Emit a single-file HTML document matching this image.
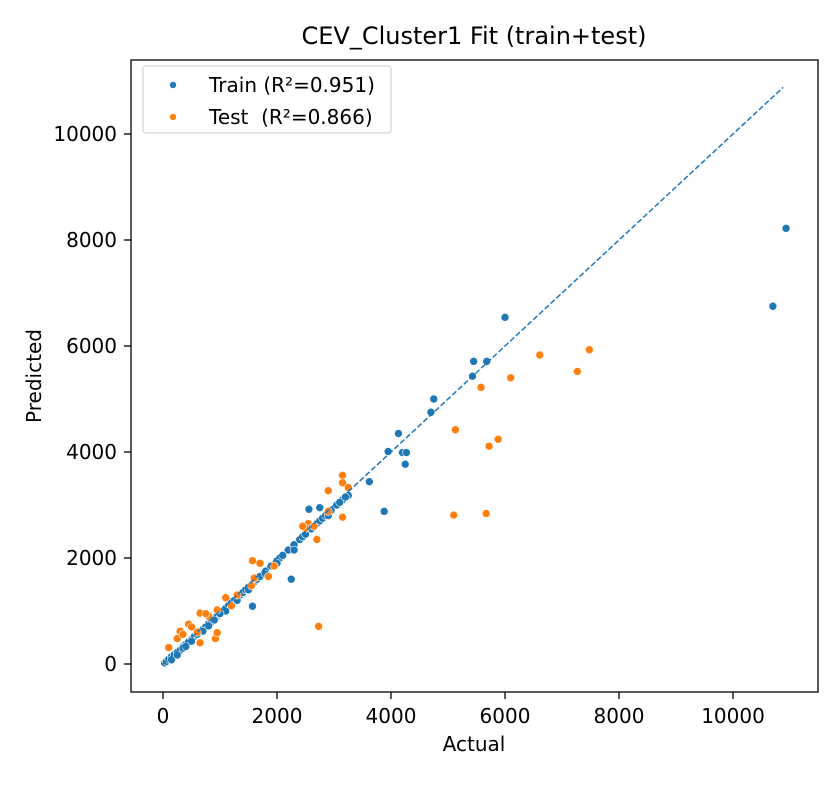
<!DOCTYPE html>
<html><head><meta charset="utf-8"><style>
body{margin:0;background:#fff;}
svg text{font-family:"DejaVu Sans","Liberation Sans",sans-serif;fill:#000;}
</style></head><body>
<svg id="chart" width="840" height="780" viewBox="0 0 840 780" xmlns="http://www.w3.org/2000/svg">
<rect width="840" height="780" fill="#fff"/>
<text x="474" y="44" font-size="24" text-anchor="middle">CEV_Cluster1 Fit (train+test)</text>
<g id="marks"></g>
<rect x="131" y="60" width="687" height="632" fill="none" stroke="#000" stroke-width="1.3"/>
<g id="axes"></g>
<text x="474" y="751" font-size="20" text-anchor="middle">Actual</text>
<text transform="translate(41,376) rotate(-90)" font-size="20" text-anchor="middle">Predicted</text>
<g>
<rect x="143" y="66" width="248" height="67" rx="3" fill="#fff" fill-opacity="0.8" stroke="#ccc"/>
<circle cx="173" cy="85" r="3.5" fill="#1f77b4" stroke="#fff" stroke-width="0.6"/>
<text x="209" y="92" font-size="20">Train (R²=0.951)</text>
<circle cx="173" cy="117" r="3.5" fill="#ff7f0e" stroke="#fff" stroke-width="0.6"/>
<text x="209" y="124" font-size="20">Test &#160;(R²=0.866)</text>
</g>
</svg>
<script>
const xTicks=[0,2000,4000,6000,8000,10000];
const yTicks=[0,2000,4000,6000,8000,10000];
const trainActual=[10930,10700,6000,5450,5680,5430,4750,4700,4130,4200,4270,4250,3950,3880,3620,3250,3150,2250,1570,2750,2560,
 30,60,100,150,200,250,300,350,400,450,500,550,600,650,700,750,800,850,900,950,1000,1050,1100,1150,1200,1250,1300,1350,1400,1450,1500,1600,1650,1700,1800,1900,2000,2050,2100,2200,2300,2400,2450,2500,2600,2700,2750,2800,2850,2950,3050,3100,150,250,350,500,700,900,1100,1300,1500,1800,2000,2300,2650,2900,3200,1200,1000,800,600,400];
const trainPred=[8220,6750,6540,5710,5710,5430,5000,4750,4350,3990,3990,3770,4010,2880,3440,3180,3100,1600,1090,2950,2920,
 20,50,90,140,180,220,260,330,370,420,460,520,560,620,650,700,760,800,850,900,940,1000,1050,1100,1180,1200,1260,1300,1350,1400,1450,1550,1600,1650,1750,1850,1950,2000,2050,2150,2250,2350,2400,2450,2550,2650,2700,2750,2800,2900,3000,3050,80,170,300,430,620,830,1000,1200,1400,1700,1900,2150,2600,2800,3150,1100,950,720,560,330];
const testActual=[7480,7270,6610,6100,5580,5130,5880,5720,5100,5670,2730,3150,3150,3150,2900,3250,2900,2550,2500,2700,1570,1950,1700,1850,1600,1550,1100,1300,950,650,800,450,300,100,250,600,920,950,650,500,350,1200,750,2450,2650];
const testPred=[5930,5520,5830,5400,5220,4420,4240,4110,2810,2840,710,3560,3420,2770,3270,3330,2880,2650,2560,2350,1950,1850,1900,1650,1620,1480,1250,1300,1020,960,900,750,620,310,480,600,480,590,400,700,560,1100,950,2600,2600];
const lineStart=0, lineEnd=10880;
const X=v=>163+v*0.057, Y=v=>664-v*0.053;
const NS="http://www.w3.org/2000/svg";
const marks=document.getElementById('marks'), axes=document.getElementById('axes');
function mk(tag,attrs,parent){const e=document.createElementNS(NS,tag);for(const k in attrs)e.setAttribute(k,attrs[k]);parent.appendChild(e);return e;}
trainActual.forEach((a,i)=>{const c=mk('circle',{cx:X(a),cy:Y(trainPred[i]),r:4,fill:'#1f77b4',stroke:'#fff','stroke-width':0.6},marks);

});
testActual.forEach((a,i)=>{const c=mk('circle',{cx:X(a),cy:Y(testPred[i]),r:4,fill:'#ff7f0e',stroke:'#fff','stroke-width':0.6},marks);

});
const ln=mk('line',{x1:X(lineStart),y1:Y(lineStart),x2:X(lineEnd),y2:Y(lineEnd),stroke:'#1f77b4','stroke-width':1.5,'stroke-dasharray':'5.5,2.4'},marks);


xTicks.forEach(t=>{mk('line',{x1:X(t),x2:X(t),y1:692,y2:699,stroke:'#000','stroke-width':1.3},axes);
const tx=mk('text',{x:X(t),y:723,'font-size':20,'text-anchor':'middle'},axes);tx.textContent=t;

});
yTicks.forEach(t=>{mk('line',{x1:124,x2:131,y1:Y(t),y2:Y(t),stroke:'#000','stroke-width':1.3},axes);
const tx=mk('text',{x:117,y:Y(t)+7,'font-size':20,'text-anchor':'end'},axes);tx.textContent=t;

});
</script>
</body></html>
